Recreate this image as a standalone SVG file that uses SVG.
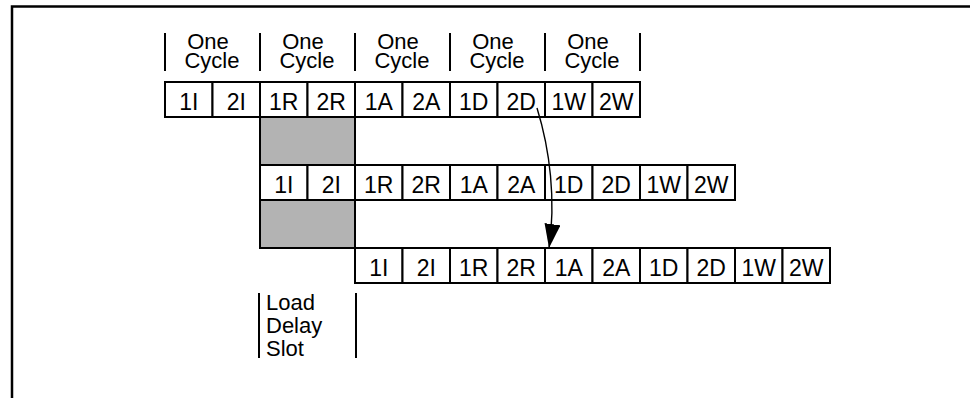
<svg xmlns="http://www.w3.org/2000/svg" width="970" height="398" viewBox="0 0 970 398">
<style>
.cell{fill:#fff;stroke:#000;stroke-width:2}
.gray{fill:#b3b3b3;stroke:#000;stroke-width:2}
.t{font-family:"Liberation Sans",Arial,Helvetica,sans-serif;font-size:23px;fill:#000}
.l{font-size:22px}
.c{text-anchor:middle}
.bar{stroke:#000;stroke-width:2}
.frame{stroke:#000;stroke-width:2.5;fill:none}
</style>
<defs>
<marker id="ah" viewBox="0 0 24 16" refX="24" refY="8" markerWidth="24" markerHeight="16" markerUnits="userSpaceOnUse" orient="auto">
<path d="M0,0 L24,8 L0,16 Z" fill="#000"/>
</marker>
</defs>
<path class="frame" d="M12,398 V6.5 H970"/>
<g id="cycle-labels">
<line class="bar" x1="165" y1="33" x2="165" y2="71"/>
<line class="bar" x1="260" y1="33" x2="260" y2="71"/>
<line class="bar" x1="355" y1="33" x2="355" y2="71"/>
<line class="bar" x1="450" y1="33" x2="450" y2="71"/>
<line class="bar" x1="545" y1="33" x2="545" y2="71"/>
<line class="bar" x1="640" y1="33" x2="640" y2="71"/>
<text class="t l c" x="208" y="49">One</text><text class="t l c" x="212" y="68">Cycle</text>
<text class="t l c" x="303" y="49">One</text><text class="t l c" x="307" y="68">Cycle</text>
<text class="t l c" x="398" y="49">One</text><text class="t l c" x="402" y="68">Cycle</text>
<text class="t l c" x="493" y="49">One</text><text class="t l c" x="497" y="68">Cycle</text>
<text class="t l c" x="588" y="49">One</text><text class="t l c" x="592" y="68">Cycle</text>
</g>
<g id="row1">
<rect class="cell" x="165" y="82" width="47.5" height="35"/><text class="t c" x="188.75" y="110">1I</text>
<rect class="cell" x="212.5" y="82" width="47.5" height="35"/><text class="t c" x="236.25" y="110">2I</text>
<rect class="cell" x="260" y="82" width="47.5" height="35"/><text class="t c" x="283.75" y="110">1R</text>
<rect class="cell" x="307.5" y="82" width="47.5" height="35"/><text class="t c" x="331.25" y="110">2R</text>
<rect class="cell" x="355" y="82" width="47.5" height="35"/><text class="t c" x="378.75" y="110">1A</text>
<rect class="cell" x="402.5" y="82" width="47.5" height="35"/><text class="t c" x="426.25" y="110">2A</text>
<rect class="cell" x="450" y="82" width="47.5" height="35"/><text class="t c" x="473.75" y="110">1D</text>
<rect class="cell" x="497.5" y="82" width="47.5" height="35"/><text class="t c" x="521.25" y="110">2D</text>
<rect class="cell" x="545" y="82" width="47.5" height="35"/><text class="t c" x="568.75" y="110">1W</text>
<rect class="cell" x="592.5" y="82" width="47.5" height="35"/><text class="t c" x="616.25" y="110">2W</text>
</g>
<g id="stall1">
<rect class="gray" x="260" y="117" width="95" height="48"/>
</g>
<g id="row2">
<rect class="cell" x="260" y="165" width="47.5" height="35"/><text class="t c" x="283.75" y="193">1I</text>
<rect class="cell" x="307.5" y="165" width="47.5" height="35"/><text class="t c" x="331.25" y="193">2I</text>
<rect class="cell" x="355" y="165" width="47.5" height="35"/><text class="t c" x="378.75" y="193">1R</text>
<rect class="cell" x="402.5" y="165" width="47.5" height="35"/><text class="t c" x="426.25" y="193">2R</text>
<rect class="cell" x="450" y="165" width="47.5" height="35"/><text class="t c" x="473.75" y="193">1A</text>
<rect class="cell" x="497.5" y="165" width="47.5" height="35"/><text class="t c" x="521.25" y="193">2A</text>
<rect class="cell" x="545" y="165" width="47.5" height="35"/><text class="t c" x="568.75" y="193">1D</text>
<rect class="cell" x="592.5" y="165" width="47.5" height="35"/><text class="t c" x="616.25" y="193">2D</text>
<rect class="cell" x="640" y="165" width="47.5" height="35"/><text class="t c" x="663.75" y="193">1W</text>
<rect class="cell" x="687.5" y="165" width="47.5" height="35"/><text class="t c" x="711.25" y="193">2W</text>
</g>
<g id="stall2">
<rect class="gray" x="260" y="200" width="95" height="48"/>
</g>
<g id="row3">
<rect class="cell" x="355" y="248" width="47.5" height="35"/><text class="t c" x="378.75" y="276">1I</text>
<rect class="cell" x="402.5" y="248" width="47.5" height="35"/><text class="t c" x="426.25" y="276">2I</text>
<rect class="cell" x="450" y="248" width="47.5" height="35"/><text class="t c" x="473.75" y="276">1R</text>
<rect class="cell" x="497.5" y="248" width="47.5" height="35"/><text class="t c" x="521.25" y="276">2R</text>
<rect class="cell" x="545" y="248" width="47.5" height="35"/><text class="t c" x="568.75" y="276">1A</text>
<rect class="cell" x="592.5" y="248" width="47.5" height="35"/><text class="t c" x="616.25" y="276">2A</text>
<rect class="cell" x="640" y="248" width="47.5" height="35"/><text class="t c" x="663.75" y="276">1D</text>
<rect class="cell" x="687.5" y="248" width="47.5" height="35"/><text class="t c" x="711.25" y="276">2D</text>
<rect class="cell" x="735" y="248" width="47.5" height="35"/><text class="t c" x="758.75" y="276">1W</text>
<rect class="cell" x="782.5" y="248" width="47.5" height="35"/><text class="t c" x="806.25" y="276">2W</text>
</g>
<g id="load-delay-slot">
<line class="bar" x1="259" y1="293" x2="259" y2="358"/>
<line class="bar" x1="356" y1="293" x2="356" y2="358"/>
<text class="t l" x="266" y="310">Load</text>
<text class="t l" x="266" y="333">Delay</text>
<text class="t l" x="266" y="356">Slot</text>
</g>
<g id="connectors">
<path d="M537,108 C550,150 556,200 549,248" fill="none" stroke="#000" stroke-width="1.4" marker-end="url(#ah)"/>
</g>
</svg>
